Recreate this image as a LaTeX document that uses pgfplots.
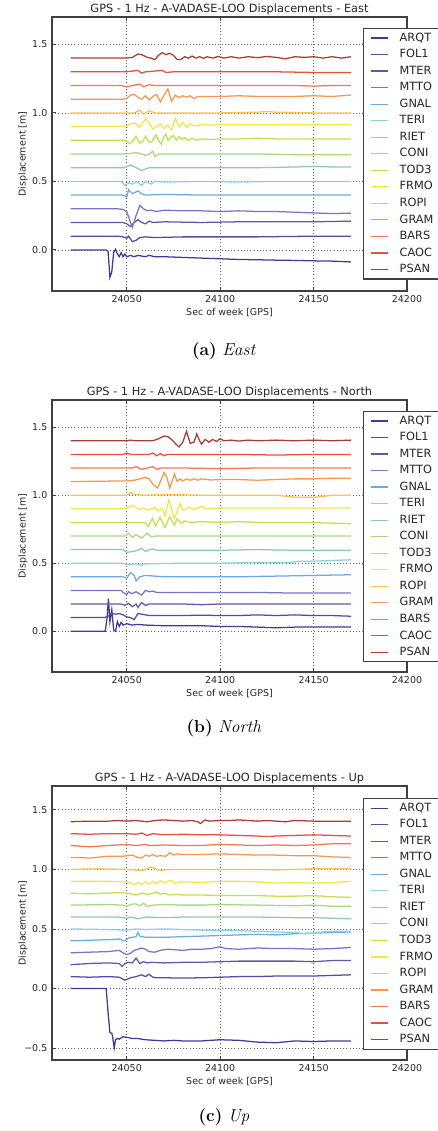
\documentclass[border=0pt]{standalone}
\usepackage{pgfplots}
\pgfplotsset{compat=1.18}
\usepackage{fontspec}
\newfontfamily\dejavu{DejaVu Sans}
\definecolor{c1}{RGB}{72,56,150}
\definecolor{c2}{RGB}{88,72,170}
\definecolor{c3}{RGB}{98,86,170}
\definecolor{c4}{RGB}{120,118,196}
\definecolor{c5}{RGB}{110,170,225}
\definecolor{c6}{RGB}{140,210,220}
\definecolor{c7}{RGB}{140,205,165}
\definecolor{c8}{RGB}{168,215,130}
\definecolor{c9}{RGB}{195,222,80}
\definecolor{c10}{RGB}{240,230,70}
\definecolor{c11}{RGB}{250,195,80}
\definecolor{c12}{RGB}{250,150,80}
\definecolor{c13}{RGB}{242,120,85}
\definecolor{c14}{RGB}{230,80,65}
\definecolor{c15}{RGB}{170,60,50}
\definecolor{axgray}{RGB}{64,64,64}
\pgfplotsset{
  panel/.style={
    scale only axis, width=266.25pt,
    xmin=24010, xmax=24200,
    xtick={24050,24100,24150,24200}, xticklabels={24050,24100,24150,24200},
    scaled x ticks=false, scaled y ticks=false,
    grid=major, grid style={dotted, black!60, line width=0.5pt},
    axis line style={draw=axgray, line width=0.8pt},
    tick align=inside, major tick length=3pt,
    tick style={axgray, line width=0.6pt},
    ticklabel style={font=\dejavu\fontsize{7.1}{8}\selectfont, text=black!85},
    xlabel={Sec of week [GPS]}, ylabel={Displacement [m]},
    xlabel style={font=\dejavu\fontsize{7.1}{8}\selectfont, text=black!85, at={(axis description cs:0.5,-0.080)}, anchor=center},
    ylabel style={font=\dejavu\fontsize{7.1}{8}\selectfont, text=black!85, at={(axis description cs:-0.082,0.5)}, anchor=center},
    every axis title shift=0pt,
    title style={font=\dejavu\fontsize{8.5}{9.5}\selectfont, text=black!85, at={(axis description cs:0.5,1)}, anchor=south, inner sep=1.5pt},
    legend image code/.code={\draw[line width=0.9pt,#1] (0pt,0pt) -- (12.75pt,0pt);},
    legend style={anchor=north west, draw=axgray, line width=0.8pt, fill=white,
      font=\dejavu\fontsize{8.5}{9.5}\selectfont, text=black!85,
      inner xsep=5pt, inner ysep=2pt, row sep=2.1pt,
      nodes={inner ysep=1pt, inner xsep=1.5pt, text height=6.5pt, text depth=1.8pt},
      /tikz/every odd column/.append style={column sep=7pt}},
    legend cell align=left,
    every axis plot/.append style={line width=0.95pt},
  }
}
\begin{document}
\begin{tikzpicture}
% ---------------- (a) East ----------------
\begin{axis}[panel, at={(39pt,630pt)}, anchor=south west, height=205.5pt,
  ymin=-0.3, ymax=1.7, ytick={0,0.5,1,1.5}, yticklabels={0.0,0.5,1.0,1.5},
  title={GPS - 1 Hz - A-VADASE-LOO Displacements - East},
  legend style={at={(rel axis cs:0.876,0.96)}}]
\addplot[c1] coordinates {(24020,0) (24039,0) (24040,-0.01) (24041,-0.20) (24042,-0.16) (24043,-0.02) (24044,0.005) (24045,-0.03) (24046,-0.05) (24047,-0.02) (24048,-0.05) (24049,-0.03) (24050,-0.05) (24052,-0.04) (24054,-0.05) (24056,-0.04) (24058,-0.045) (24060,-0.05) (24062,-0.04) (24065,-0.05) (24070,-0.05) (24080,-0.055) (24090,-0.06) (24100,-0.065) (24110,-0.07) (24120,-0.072) (24130,-0.075) (24140,-0.077) (24150,-0.08) (24160,-0.082) (24170,-0.088)};
\addplot[c2] coordinates {(24020,0.1) (24045,0.1) (24048,0.095) (24050,0.085) (24051,0.1) (24052,0.08) (24053,0.06) (24055,0.07) (24057,0.09) (24060,0.095) (24065,0.09) (24080,0.095) (24100,0.095) (24120,0.095) (24150,0.1) (24170,0.1)};
\addplot[c3] coordinates {(24020,0.2) (24048,0.2) (24050,0.19) (24052,0.17) (24054,0.2) (24056,0.22) (24058,0.2) (24060,0.19) (24062,0.21) (24064,0.2) (24070,0.205) (24090,0.2) (24110,0.205) (24130,0.205) (24150,0.205) (24170,0.21)};
\addplot[c4] coordinates {(24020,0.3) (24045,0.3) (24048,0.295) (24050,0.28) (24052,0.2) (24053,0.165) (24055,0.25) (24057,0.325) (24059,0.3) (24061,0.285) (24063,0.29) (24066,0.28) (24070,0.29) (24080,0.285) (24090,0.285) (24100,0.28) (24110,0.285) (24120,0.28) (24130,0.28) (24140,0.275) (24150,0.27) (24160,0.265) (24170,0.268)};
\addplot[c5] coordinates {(24020,0.4) (24047,0.4) (24049,0.395) (24050,0.385) (24051,0.44) (24053,0.41) (24056,0.43) (24058,0.41) (24060,0.4) (24070,0.405) (24090,0.4) (24110,0.4) (24130,0.4) (24150,0.4) (24170,0.4)};
\addplot[c6] coordinates {(24020,0.5) (24047,0.5) (24049,0.47) (24051,0.49) (24053,0.48) (24055,0.5) (24058,0.47) (24060,0.5) (24063,0.48) (24065,0.5) (24070,0.495) (24090,0.5) (24110,0.495) (24130,0.5) (24150,0.5) (24170,0.5)};
\addplot[c7] coordinates {(24020,0.6) (24049,0.6) (24052,0.62) (24055,0.6) (24058,0.58) (24062,0.6) (24080,0.6) (24100,0.6) (24120,0.6) (24140,0.605) (24150,0.61) (24160,0.605) (24170,0.605)};
\addplot[c8] coordinates {(24020,0.7) (24050,0.7) (24055,0.71) (24058,0.7) (24060,0.69) (24062,0.7) (24064,0.72) (24065,0.68) (24067,0.7) (24080,0.7) (24100,0.7) (24120,0.7) (24140,0.695) (24170,0.695)};
\addplot[c9] coordinates {(24020,0.8) (24048,0.8) (24050,0.795) (24051.5,0.775) (24053,0.79) (24055,0.83) (24057,0.78) (24058.5,0.79) (24060,0.83) (24062,0.785) (24063.5,0.79) (24065.5,0.84) (24067,0.8) (24068.5,0.77) (24070,0.83) (24071,0.845) (24072,0.8) (24073.5,0.82) (24075,0.835) (24076.5,0.8) (24078,0.825) (24079.5,0.805) (24081,0.82) (24083,0.8) (24085,0.815) (24087,0.8) (24090,0.81) (24095,0.805) (24100,0.81) (24110,0.81) (24120,0.815) (24130,0.81) (24150,0.81) (24170,0.81)};
\addplot[c10] coordinates {(24020,0.9) (24045,0.9) (24050,0.905) (24053,0.925) (24055,0.92) (24057,0.895) (24060,0.955) (24062,0.93) (24064,0.88) (24066,0.9) (24068,0.92) (24070,0.885) (24072,0.91) (24074,0.875) (24076,0.96) (24078,0.9) (24080,0.93) (24082,0.895) (24084,0.92) (24086,0.905) (24090,0.915) (24095,0.91) (24100,0.915) (24120,0.915) (24140,0.915) (24170,0.915)};
\addplot[c11] coordinates {(24020,1.0) (24054,1.0) (24057,1.02) (24059,0.99) (24062,1.015) (24065,1.0) (24080,1.0) (24100,1.0) (24120,1.005) (24125,1.01) (24130,1.005) (24150,1.0) (24170,1.0)};
\addplot[c12] coordinates {(24020,1.1) (24048,1.1) (24050,1.105) (24052,1.13) (24054,1.135) (24056,1.115) (24058,1.1) (24060,1.125) (24062,1.095) (24064,1.12) (24066,1.135) (24068,1.08) (24070,1.13) (24072,1.175) (24074,1.085) (24076,1.13) (24078,1.11) (24080,1.125) (24082,1.115) (24084,1.125) (24086,1.105) (24088,1.12) (24092,1.12) (24100,1.12) (24110,1.125) (24120,1.12) (24130,1.12) (24140,1.12) (24150,1.125) (24160,1.12) (24170,1.13)};
\addplot[c13] coordinates {(24020,1.2) (24047,1.2) (24050,1.19) (24053,1.2) (24057,1.21) (24059,1.19) (24062,1.205) (24065,1.2) (24080,1.2) (24100,1.2) (24120,1.2) (24140,1.2) (24150,1.195) (24160,1.2) (24170,1.2)};
\addplot[c14] coordinates {(24020,1.3) (24050,1.3) (24056,1.31) (24058,1.29) (24060,1.3) (24069,1.31) (24071,1.295) (24075,1.3) (24090,1.3) (24110,1.3) (24130,1.3) (24150,1.295) (24170,1.295)};
\addplot[c15] coordinates {(24020,1.4) (24050,1.4) (24053,1.405) (24056,1.43) (24058,1.425) (24061,1.405) (24063,1.4) (24065,1.388) (24067,1.42) (24069,1.44) (24071,1.425) (24073,1.435) (24075,1.42) (24077,1.39) (24079,1.39) (24081,1.41) (24083,1.4) (24085,1.415) (24087,1.4) (24089,1.41) (24091,1.398) (24093,1.41) (24096,1.4) (24099,1.412) (24102,1.4) (24106,1.41) (24110,1.4) (24115,1.41) (24120,1.403) (24125,1.412) (24130,1.405) (24135,1.395) (24140,1.41) (24145,1.405) (24150,1.41) (24155,1.4) (24160,1.41) (24165,1.4) (24170,1.41)};
\legend{ARQT,FOL1,MTER,MTTO,GNAL,TERI,RIET,CONI,TOD3,FRMO,ROPI,GRAM,BARS,CAOC,PSAN}
\end{axis}
% ---------------- (b) North ----------------
\begin{axis}[panel, at={(39pt,344.25pt)}, anchor=south west, height=204pt,
  ymin=-0.3, ymax=1.7, ytick={0,0.5,1,1.5}, yticklabels={0.0,0.5,1.0,1.5},
  title={GPS - 1 Hz - A-VADASE-LOO Displacements - North},
  legend style={at={(rel axis cs:0.876,0.96)}}]
\addplot[c1] coordinates {(24020,0) (24038.5,0) (24039.5,0.1) (24040.2,0.24) (24041,0.07) (24042,0.16) (24043,0.01) (24044,0.0) (24045,0.07) (24046,0.035) (24047,0.065) (24048,0.045) (24050,0.055) (24053,0.045) (24056,0.05) (24060,0.045) (24070,0.04) (24080,0.04) (24090,0.04) (24100,0.035) (24110,0.035) (24120,0.03) (24130,0.025) (24140,0.03) (24150,0.03) (24160,0.03) (24170,0.03)};
\addplot[c2] coordinates {(24020,0.1) (24038,0.1) (24040,0.11) (24042,0.13) (24044,0.125) (24046,0.13) (24048,0.12) (24050,0.105) (24052,0.1) (24054,0.085) (24056,0.13) (24058,0.125) (24062,0.115) (24070,0.115) (24080,0.115) (24090,0.118) (24100,0.115) (24110,0.115) (24120,0.12) (24130,0.115) (24140,0.12) (24150,0.115) (24160,0.115) (24170,0.11)};
\addplot[c3] coordinates {(24020,0.2) (24047,0.2) (24049,0.19) (24051,0.205) (24053,0.18) (24055,0.2) (24056,0.175) (24058,0.21) (24060,0.19) (24062,0.2) (24070,0.2) (24080,0.2) (24090,0.195) (24100,0.2) (24120,0.2) (24140,0.2) (24160,0.2) (24170,0.2)};
\addplot[c4] coordinates {(24020,0.3) (24047,0.3) (24048,0.285) (24050,0.27) (24051,0.29) (24053,0.275) (24055,0.29) (24058,0.265) (24060,0.3) (24062,0.29) (24064,0.295) (24066,0.285) (24080,0.285) (24100,0.285) (24120,0.285) (24140,0.28) (24170,0.28)};
\addplot[c5] coordinates {(24020,0.4) (24048,0.4) (24050,0.39) (24052,0.43) (24054,0.41) (24055,0.37) (24057,0.4) (24060,0.41) (24070,0.4) (24090,0.4) (24110,0.4) (24130,0.405) (24150,0.41) (24170,0.415)};
\addplot[c6] coordinates {(24020,0.5) (24048,0.5) (24050,0.49) (24055,0.495) (24058,0.485) (24060,0.495) (24080,0.5) (24100,0.5) (24120,0.505) (24138,0.505) (24142,0.515) (24150,0.515) (24160,0.52) (24170,0.525)};
\addplot[c7] coordinates {(24020,0.6) (24048,0.6) (24050,0.58) (24053,0.585) (24056,0.595) (24058,0.61) (24060,0.585) (24062,0.6) (24064,0.605) (24066,0.595) (24080,0.595) (24100,0.595) (24120,0.6) (24140,0.595) (24170,0.595)};
\addplot[c8] coordinates {(24020,0.7) (24049,0.7) (24051,0.72) (24053,0.69) (24055,0.71) (24058,0.685) (24061,0.72) (24063,0.695) (24066,0.7) (24080,0.7) (24100,0.7) (24120,0.7) (24140,0.7) (24170,0.7)};
\addplot[c9] coordinates {(24020,0.8) (24058,0.8) (24060,0.795) (24061.5,0.77) (24063.7,0.83) (24065.5,0.775) (24067.8,0.837) (24070.5,0.763) (24073,0.844) (24075.4,0.78) (24077,0.825) (24079,0.795) (24081,0.81) (24084,0.8) (24090,0.805) (24100,0.8) (24110,0.805) (24120,0.8) (24140,0.8) (24160,0.795) (24170,0.79)};
\addplot[c10] coordinates {(24020,0.9) (24048,0.9) (24051,0.91) (24053,0.925) (24055,0.91) (24057,0.895) (24059,0.905) (24061,0.89) (24063,0.9) (24065,0.91) (24067,0.885) (24069,0.9) (24070.5,0.85) (24072.5,0.965) (24074,0.9) (24075.5,0.83) (24077,0.88) (24078.5,0.94) (24080,0.89) (24082,0.9) (24084,0.91) (24086,0.895) (24088,0.905) (24090,0.92) (24092,0.9) (24100,0.905) (24120,0.905) (24140,0.905) (24170,0.905)};
\addplot[c11] coordinates {(24020,1.0) (24050,1.0) (24052,1.02) (24054,1.005) (24060,1.0) (24070,1.005) (24090,1.0) (24110,1.0) (24130,1.0) (24137,0.99) (24140,0.985) (24150,0.985) (24155,0.99) (24160,1.0) (24170,1.0)};
\addplot[c12] coordinates {(24020,1.1) (24050,1.105) (24054,1.11) (24057,1.12) (24060,1.13) (24062,1.12) (24064,1.08) (24066.5,1.052) (24068,1.1) (24070,1.167) (24071.5,1.13) (24073,1.052) (24074.5,1.11) (24075.5,1.157) (24077,1.1) (24078.5,1.12) (24080,1.105) (24082,1.12) (24084,1.11) (24086,1.12) (24088,1.11) (24090,1.12) (24095,1.112) (24100,1.115) (24110,1.115) (24120,1.11) (24130,1.115) (24140,1.12) (24150,1.12) (24160,1.125) (24170,1.125)};
\addplot[c13] coordinates {(24020,1.2) (24053,1.2) (24055,1.21) (24058,1.19) (24061,1.2) (24064,1.21) (24066,1.19) (24068,1.2) (24080,1.2) (24100,1.195) (24120,1.2) (24140,1.2) (24170,1.2)};
\addplot[c14] coordinates {(24020,1.3) (24048,1.3) (24050,1.31) (24052,1.3) (24062,1.3) (24064,1.31) (24066,1.29) (24068,1.305) (24070,1.29) (24072,1.3) (24090,1.3) (24110,1.3) (24130,1.295) (24150,1.3) (24170,1.3)};
\addplot[c15] coordinates {(24020,1.4) (24050,1.4) (24052,1.405) (24055,1.4) (24064,1.4) (24067,1.415) (24070,1.435) (24072,1.43) (24074,1.41) (24076,1.38) (24078,1.355) (24080,1.39) (24082,1.47) (24084,1.38) (24086,1.39) (24087.5,1.45) (24089,1.4) (24090,1.375) (24092,1.41) (24094,1.39) (24096,1.41) (24098,1.395) (24100,1.415) (24102,1.4) (24106,1.405) (24110,1.398) (24115,1.405) (24120,1.4) (24130,1.405) (24140,1.4) (24150,1.405) (24160,1.4) (24170,1.405)};
\legend{ARQT,FOL1,MTER,MTTO,GNAL,TERI,RIET,CONI,TOD3,FRMO,ROPI,GRAM,BARS,CAOC,PSAN}
\end{axis}
% ---------------- (c) Up ----------------
\begin{axis}[panel, at={(39pt,53.25pt)}, anchor=south west, height=205.5pt,
  ymin=-0.6, ymax=1.7, ytick={-0.5,0,0.5,1,1.5}, yticklabels={−0.5,0.0,0.5,1.0,1.5},
  title={GPS - 1 Hz - A-VADASE-LOO Displacements - Up},
  legend style={at={(rel axis cs:0.876,0.956)}}]
\addplot[c1] coordinates {(24020,0) (24039,0) (24040,-0.2) (24041,-0.37) (24042,-0.375) (24042.5,-0.41) (24043.3,-0.5) (24044,-0.43) (24045,-0.42) (24046,-0.425) (24048,-0.405) (24050,-0.41) (24053,-0.42) (24056,-0.42) (24060,-0.43) (24065,-0.435) (24070,-0.44) (24075,-0.435) (24080,-0.44) (24090,-0.44) (24100,-0.43) (24110,-0.435) (24120,-0.45) (24130,-0.455) (24140,-0.44) (24150,-0.445) (24160,-0.44) (24170,-0.44)};
\addplot[c2] coordinates {(24020,0.1) (24030,0.095) (24040,0.1) (24046,0.095) (24049,0.07) (24052,0.09) (24055,0.1) (24058,0.115) (24060,0.1) (24062,0.12) (24064,0.095) (24066,0.09) (24070,0.09) (24080,0.088) (24090,0.09) (24100,0.095) (24110,0.1) (24120,0.1) (24130,0.105) (24140,0.105) (24150,0.105) (24160,0.11) (24170,0.115)};
\addplot[c3] coordinates {(24020,0.2) (24030,0.21) (24040,0.215) (24046,0.21) (24047.5,0.185) (24049,0.21) (24051,0.22) (24053,0.215) (24055,0.255) (24057,0.21) (24059,0.225) (24061,0.215) (24063,0.22) (24070,0.215) (24080,0.22) (24090,0.22) (24100,0.225) (24110,0.23) (24120,0.23) (24130,0.23) (24140,0.23) (24150,0.225) (24160,0.235) (24170,0.235)};
\addplot[c4] coordinates {(24020,0.3) (24040,0.31) (24046,0.32) (24048,0.3) (24050,0.285) (24052,0.295) (24054,0.32) (24058,0.34) (24060,0.33) (24062,0.31) (24065,0.305) (24068,0.32) (24072,0.33) (24076,0.325) (24080,0.32) (24085,0.33) (24090,0.33) (24095,0.335) (24100,0.35) (24103,0.335) (24110,0.33) (24120,0.34) (24130,0.335) (24140,0.335) (24150,0.33) (24160,0.335) (24170,0.345)};
\addplot[c5] coordinates {(24020,0.4) (24040,0.41) (24046,0.415) (24049,0.4) (24051,0.425) (24053,0.43) (24055,0.435) (24056,0.47) (24057,0.44) (24060,0.43) (24070,0.43) (24080,0.435) (24090,0.44) (24100,0.445) (24110,0.45) (24120,0.455) (24130,0.45) (24140,0.46) (24150,0.465) (24160,0.47) (24170,0.475)};
\addplot[c6] coordinates {(24020,0.5) (24040,0.495) (24050,0.49) (24055,0.5) (24060,0.495) (24070,0.5) (24080,0.495) (24090,0.49) (24100,0.49) (24110,0.485) (24120,0.48) (24130,0.475) (24140,0.47) (24145,0.46) (24150,0.465) (24155,0.475) (24160,0.48) (24170,0.48)};
\addplot[c7] coordinates {(24020,0.6) (24045,0.6) (24050,0.59) (24052,0.6) (24056,0.585) (24060,0.6) (24070,0.595) (24080,0.6) (24090,0.6) (24100,0.6) (24120,0.6) (24140,0.595) (24150,0.595) (24160,0.59) (24170,0.585)};
\addplot[c8] coordinates {(24020,0.7) (24040,0.705) (24048,0.7) (24050,0.69) (24053,0.71) (24055,0.71) (24057,0.695) (24059,0.715) (24061,0.69) (24064,0.7) (24070,0.705) (24080,0.7) (24090,0.7) (24100,0.705) (24120,0.7) (24140,0.695) (24150,0.7) (24160,0.69) (24170,0.69)};
\addplot[c9] coordinates {(24020,0.8) (24030,0.795) (24045,0.805) (24050,0.8) (24055,0.785) (24058,0.8) (24061,0.79) (24064,0.8) (24066,0.81) (24068,0.79) (24070,0.8) (24073,0.785) (24076,0.79) (24080,0.785) (24090,0.785) (24100,0.78) (24110,0.78) (24120,0.78) (24130,0.775) (24140,0.775) (24150,0.78) (24160,0.77) (24170,0.765)};
\addplot[c10] coordinates {(24020,0.9) (24040,0.9) (24050,0.895) (24054,0.875) (24056,0.89) (24058,0.875) (24060,0.895) (24062,0.875) (24064,0.9) (24066,0.88) (24068,0.905) (24070,0.885) (24072,0.9) (24074,0.91) (24076,0.88) (24078,0.895) (24082,0.895) (24090,0.89) (24100,0.9) (24110,0.9) (24120,0.895) (24130,0.885) (24140,0.89) (24150,0.885) (24160,0.89) (24170,0.9)};
\addplot[c11] coordinates {(24020,1.0) (24035,1.005) (24050,1.0) (24058,0.99) (24060,1.0) (24063,1.02) (24065,1.005) (24068,0.99) (24072,1.0) (24080,1.0) (24090,1.0) (24100,1.0) (24110,1.0) (24120,1.0) (24130,0.995) (24140,1.0) (24150,1.005) (24160,1.005) (24170,1.005)};
\addplot[c12] coordinates {(24020,1.1) (24025,1.1) (24030,1.095) (24040,1.11) (24048,1.11) (24050,1.115) (24053,1.12) (24056,1.1) (24058,1.095) (24060,1.12) (24062,1.11) (24064,1.125) (24066,1.11) (24068,1.115) (24071,1.11) (24073,1.14) (24075,1.12) (24077,1.13) (24080,1.125) (24090,1.125) (24100,1.13) (24110,1.125) (24120,1.12) (24130,1.12) (24140,1.115) (24150,1.115) (24160,1.105) (24170,1.1)};
\addplot[c13] coordinates {(24020,1.2) (24030,1.19) (24040,1.2) (24050,1.21) (24055,1.2) (24060,1.21) (24062,1.2) (24070,1.205) (24080,1.2) (24090,1.2) (24100,1.21) (24110,1.205) (24120,1.2) (24130,1.205) (24140,1.2) (24150,1.205) (24160,1.215) (24170,1.215)};
\addplot[c14] coordinates {(24020,1.3) (24030,1.295) (24040,1.3) (24050,1.3) (24055,1.295) (24058,1.305) (24061,1.285) (24064,1.3) (24070,1.29) (24080,1.295) (24090,1.29) (24100,1.29) (24110,1.285) (24120,1.28) (24125,1.275) (24130,1.28) (24140,1.285) (24150,1.29) (24160,1.285) (24170,1.28)};
\addplot[c15] coordinates {(24020,1.4) (24030,1.405) (24040,1.405) (24045,1.41) (24050,1.405) (24055,1.41) (24058,1.405) (24061,1.4) (24065,1.41) (24070,1.415) (24075,1.41) (24080,1.405) (24085,1.41) (24088,1.4) (24089.5,1.385) (24091,1.405) (24092,1.415) (24094,1.405) (24100,1.41) (24105,1.41) (24110,1.415) (24115,1.41) (24120,1.405) (24125,1.41) (24130,1.405) (24135,1.4) (24140,1.41) (24150,1.405) (24160,1.405) (24170,1.405)};
\legend{ARQT,FOL1,MTER,MTTO,GNAL,TERI,RIET,CONI,TOD3,FRMO,ROPI,GRAM,BARS,CAOC,PSAN}
\end{axis}
% captions
\node[font=\fontsize{13}{15}\selectfont] at (168pt,585pt) {\textbf{(a)} \textit{East}};
\node[font=\fontsize{13}{15}\selectfont] at (168pt,302.25pt) {\textbf{(b)} \textit{North}};
\node[font=\fontsize{13}{15}\selectfont] at (168pt,10.5pt) {\textbf{(c)} \textit{Up}};
\pgfresetboundingbox
\path[use as bounding box] (0pt,0pt) rectangle (327.75pt,848.25pt);
\end{tikzpicture}
\end{document}
